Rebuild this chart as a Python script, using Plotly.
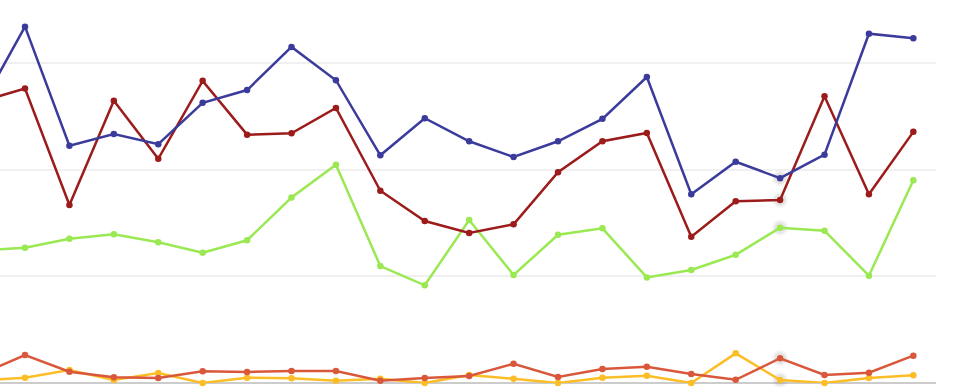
import plotly.graph_objects as go

x_idx = list(range(22))

series_blue = [129.4, 167.0, 111.2, 116.7, 111.9, 131.3, 137.3, 157.5, 141.9, 106.7, 124.1,
               113.3, 105.9, 113.3, 123.8, 143.4, 88.5, 103.7, 96.0, 107.0, 163.7, 161.6]
series_red = [131.9, 138.0, 83.4, 132.3, 105.1, 141.6, 116.4, 117.0, 128.9, 90.1, 75.9,
              70.3, 74.4, 98.8, 113.3, 117.2, 68.6, 85.2, 85.8, 134.4, 88.5, 117.7]
series_green = [62.1, 63.4, 67.6, 69.7, 66.0, 61.1, 66.9, 86.9, 102.3, 54.8, 45.8,
                76.4, 50.6, 69.5, 72.5, 49.5, 53.0, 60.1, 72.8, 71.4, 50.3, 95.0]
series_orange = [4.0, 13.1, 5.3, 2.7, 2.3, 5.5, 5.2, 5.6, 5.6, 1.1, 2.3,
                 3.3, 9.0, 2.8, 6.6, 7.6, 4.2, 1.5, 11.6, 3.75, 4.8, 12.8]
series_yellow = [1.2, 2.5, 6.1, 1.4, 4.7, 0.0, 2.5, 2.2, 1.1, 2.0, 0.0,
                 3.75, 2.0, 0.0, 2.5, 3.4, 0.0, 13.9, 1.4, 0.0, 2.3, 3.6]

hover_index = 18

series = [
    ("Series A", series_blue, "#3b3b9c"),
    ("Series B", series_red, "#9c1b1b"),
    ("Series C", series_green, "#9ae852"),
    ("Series D", series_orange, "#d9583b"),
    ("Series E", series_yellow, "#fcbd26"),
]

fig = go.Figure()

# soft hover halo
for name, vals, col in series:
    for sz, a in [(16, 0.06), (12, 0.10)]:
        fig.add_trace(go.Scatter(
            x=[x_idx[hover_index]], y=[vals[hover_index]], mode="markers",
            marker=dict(size=sz, color="rgba(90,90,90,%s)" % a, line=dict(width=0)),
            hoverinfo="skip", showlegend=False, cliponaxis=False))

for name, vals, col in series[::-1]:
    fig.add_trace(go.Scatter(
        x=x_idx, y=vals, mode="lines+markers", name=name,
        line=dict(color=col, width=2.5),
        marker=dict(color=col, size=6.5),
        cliponaxis=False, showlegend=False))

fig.update_layout(
    width=961, height=387,
    margin=dict(l=0, r=25, t=0, b=4),
    plot_bgcolor="white", paper_bgcolor="white",
    showlegend=False,
)
fig.update_xaxes(range=[0.437, 21.51], showgrid=False, showticklabels=False,
                 zeroline=False, showline=False, ticks="")
fig.update_yaxes(range=[0, 179.5], dtick=50, showgrid=True, gridcolor="#f0f0f0",
                 gridwidth=1.5, showticklabels=False, zeroline=True, zerolinecolor="#cccccc",
                 zerolinewidth=1.5, ticks="")

fig.write_html("out.html")
